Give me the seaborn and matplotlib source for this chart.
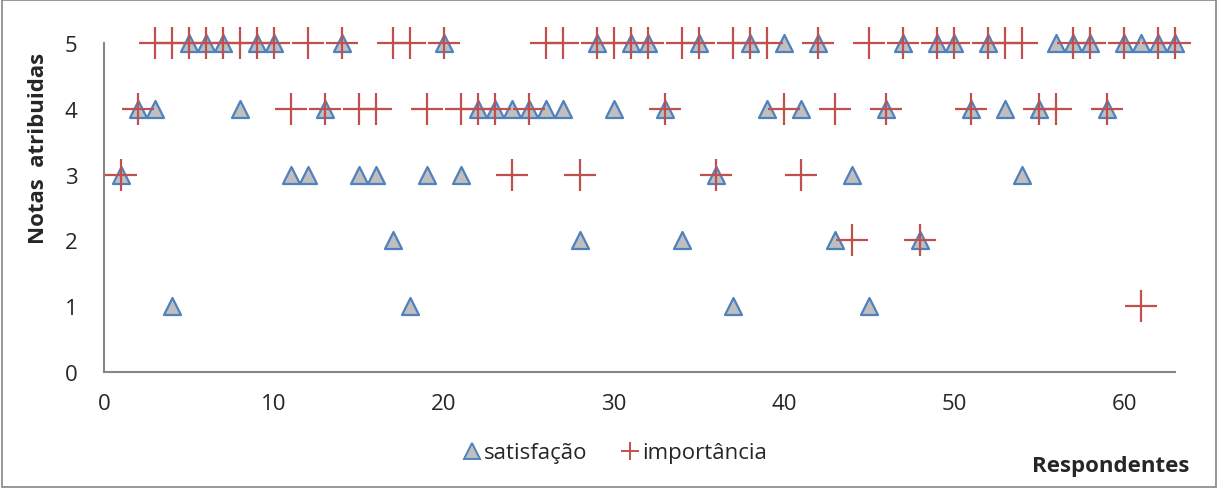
import pandas as pd
import matplotlib.pyplot as plt
import matplotlib.patches as patches
from matplotlib.lines import Line2D
from matplotlib.ticker import MultipleLocator
import seaborn as sns

# Dados (respondentes 1..63)
respondentes = list(range(1, 64))
satisfacao = [3, 4, 4, 1, 5, 5, 5, 4, 5, 5,
              3, 3, 4, 5, 3, 3, 2, 1, 3, 5,
              3, 4, 4, 4, 4, 4, 4, 2, 5, 4,
              5, 5, 4, 2, 5, 3, 1, 5, 4, 5,
              4, 5, 2, 3, 1, 4, 5, 2, 5, 5,
              4, 5, 4, 3, 4, 5, 5, 5, 4, 5,
              5, 5, 5]
importancia = [3, 4, 5, 5, 5, 5, 5, 5, 5, 5,
               4, 5, 4, 5, 4, 4, 5, 5, 4, 5,
               4, 4, 4, 3, 4, 5, 5, 3, 5, 5,
               5, 5, 4, 5, 5, 3, 5, 5, 5, 4,
               3, 5, 4, 2, 5, 4, 5, 2, 5, 5,
               4, 5, 5, 5, 4, 4, 5, 5, 4, 5,
               1, 5, 5]

df = pd.DataFrame({"respondente": respondentes,
                   "satisfação": satisfacao,
                   "importância": importancia})

sns.set_style("white")
plt.rcParams["font.family"] = ["Open Sans", "DejaVu Sans"]

cor_sat_face = "#BFBFBF"
cor_sat_borda = "#4F81BD"
cor_imp = "#C0504D"
cinza = "#868686"
tam = 16

fig = plt.figure(figsize=(12.18, 4.89), dpi=100)
ax = fig.add_axes([0.0854, 0.237, 0.8793, 0.673])

sns.scatterplot(data=df, x="respondente", y="satisfação", marker="^", s=150,
                color=cor_sat_face, edgecolor=cor_sat_borda, linewidth=1.6,
                clip_on=False, zorder=3, ax=ax)
sns.scatterplot(data=df, x="respondente", y="importância", marker="+", s=560,
                color=cor_imp, linewidth=1.6, clip_on=False, zorder=4, ax=ax)

ax.set_xlim(0, 63)
ax.set_ylim(0, 5)
ax.set_xlabel("")
ax.set_ylabel("")
ax.xaxis.set_major_locator(MultipleLocator(10))
ax.xaxis.set_minor_locator(MultipleLocator(2))
ax.yaxis.set_major_locator(MultipleLocator(1))
ax.tick_params(axis="x", which="major", direction="in", length=7, width=1.2,
               color=cinza, pad=15, labelsize=tam)
ax.tick_params(axis="x", which="minor", direction="in", length=5, width=1.2,
               color=cinza)
ax.tick_params(axis="y", length=0, pad=19, labelsize=tam)

for lado in ["top", "right"]:
    ax.spines[lado].set_visible(False)
for lado in ["left", "bottom"]:
    ax.spines[lado].set_color(cinza)
    ax.spines[lado].set_linewidth(1.5)

# Legenda
handles = [
    Line2D([], [], linestyle="", marker="^", markersize=11,
           markerfacecolor=cor_sat_face, markeredgecolor=cor_sat_borda,
           markeredgewidth=1.4),
    Line2D([], [], linestyle="", marker="+", markersize=13,
           color=cor_imp, markeredgewidth=1.4),
]
fig.legend(handles, ["satisfação", "importância"], loc="center",
           bbox_to_anchor=(0.505, 0.072), ncol=2, frameon=False,
           fontsize=tam, handlelength=0.8, handletextpad=0.15,
           columnspacing=1.5)

fig.text(0.032, 0.697, "Notas  atribuidas", rotation=90, ha="center",
         va="center", fontsize=tam, fontweight="bold")
fig.text(0.912, 0.047, "Respondentes", ha="center", va="center",
         fontsize=tam, fontweight="bold")

# Moldura da área do gráfico
fig.patches.append(patches.Rectangle((0.002, 0.002), 0.996, 0.996,
                                     transform=fig.transFigure, fill=False,
                                     edgecolor=cinza, linewidth=1.2))

fig.savefig("out.png", dpi=100)
